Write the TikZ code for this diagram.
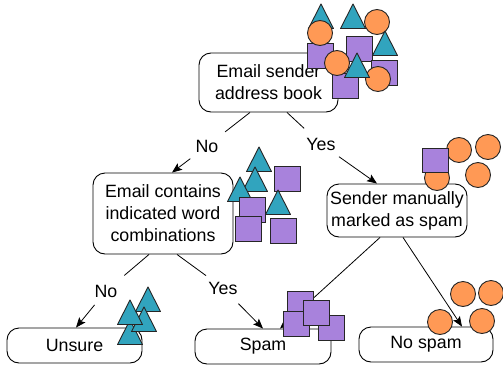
\documentclass[tikz,border=0pt]{standalone}
\usepackage{fontspec}
\setmainfont{Liberation Sans}
\usetikzlibrary{arrows.meta,calc}
\definecolor{tealc}{HTML}{31A4BE}
\definecolor{purplec}{HTML}{A882DC}
\definecolor{orangec}{HTML}{FF9955}
\newcommand\mytri[2]{\draw[tri] (#1,#2) -- ++(-12.5,24.5) -- ++(25,0) -- cycle;}
\newcommand\mysq[2]{\draw[sq] (#1,#2) rectangle ++(26,25);}
\newcommand\mycirc[2]{\draw[circ] (#1,#2) circle[radius=12.5];}
\begin{document}
\begin{tikzpicture}[x=1pt,y=-1pt,
  box/.style={draw=black, line width=0.9pt, rounded corners=12pt, inner sep=0pt, align=center,
    font=\fontsize{17.8}{22}\selectfont, fill=white},
  lab/.style={inner sep=0pt, font=\fontsize{17.8}{22}\selectfont},
  conn/.style={draw=black, line width=0.8pt},
  arr/.style={conn, -{Stealth[length=10pt,width=8pt,inset=2pt]}},
  tri/.style={fill=tealc, draw=black!85, line width=0.9pt, line join=round},
  sq/.style={fill=purplec, draw=black!85, line width=0.9pt},
  circ/.style={fill=orangec, draw=black!85, line width=0.9pt}]
\useasboundingbox (0,0) rectangle (503,367);

% boxes
\node[box, minimum width=139pt, minimum height=59pt] (b1) at (268.5,82.5) {Email sender\\address book};
\node[box, minimum width=140pt, minimum height=81pt] (b2) at (163,213.5) {Email contains\\indicated word\\combinations};
\node[box, minimum width=140pt, minimum height=53pt] (b3) at (397,210.5) {Sender manually\\marked as spam};
\node[box, minimum width=135pt, minimum height=35pt] (b4) at (74.5,345.5) {Unsure};
\node[box, minimum width=136pt, minimum height=35pt] (b5) at (263,346.5) {Spam};
\node[box, minimum width=134pt, minimum height=35pt] (b6) at (426,344.5) {No spam};

% labels
\node[lab] (l1) at (207,146) {No};
\node[lab] (l2) at (321,144) {Yes};
\node[lab] (l3) at (106,291) {No};
\node[lab] (l4) at (223,288) {Yes};

% connectors
\draw[conn, shorten >=23pt] ($(b1.south)+(-18.5,0)$) -- (l1.center);
\draw[arr, shorten <=21pt] (l1.center) -- ($(b2.north)+(9,0)$);
\draw[conn, shorten >=23pt] ($(b1.south)+(18.5,0)$) -- (l2.center);
\draw[arr, shorten <=22pt] (l2.center) -- ($(b3.north)+(-20,0)$);
\draw[conn, shorten >=24pt] ($(b2.south)+(-14,0)$) -- (l3.center);
\draw[arr, shorten <=18pt] (l3.center) -- ($(b4.north)+(1.5,0)$);
\draw[conn, shorten >=21pt] ($(b2.south)+(14,0)$) -- (l4.center);
\draw[arr, shorten <=22pt] (l4.center) -- ($(b5.north)+(0,0)$);
\draw[arr] ($(b3.south)+(-17,0)$) -- ($(b5.north)+(17,0)$);
\draw[arr] ($(b3.south)+(6,0)$) -- ($(b6.north)+(36,0)$);

% top cluster
\mytri{321}{4}
\mytri{353}{4}
\mycirc{377}{22}
\mysq{346}{36}
\mytri{385}{31}
\mysq{371}{60}
\mysq{307}{43}
\mycirc{320}{33}
\mysq{332}{73}
\mycirc{337}{63}
\mycirc{378}{79}
\mytri{357}{53}

% middle-left cluster
\mytri{259}{147}
\mysq{274}{166}
\mytri{255}{167}
\mytri{240}{177}
\mysq{239}{197}
\mytri{278}{190}
\mysq{235}{216}
\mysq{270}{218}

% right cluster
\mycirc{437}{178}
\mycirc{459}{150}
\mycirc{488}{147}
\mycirc{478}{175}
\draw[sq] (422,148) rectangle ++(26,24);

% unsure cluster
\mytri{130}{320}
\mytri{148}{287}
\mytri{144}{307}
\mytri{130}{300}

% spam cluster
\mysq{287}{291}
\mysq{283}{311}
\mysq{318}{315}
\mysq{303}{300}

% no spam cluster
\mycirc{463}{294}
\mycirc{491}{293}
\mycirc{440}{322}
\mycirc{482}{321}
\end{tikzpicture}
\end{document}
